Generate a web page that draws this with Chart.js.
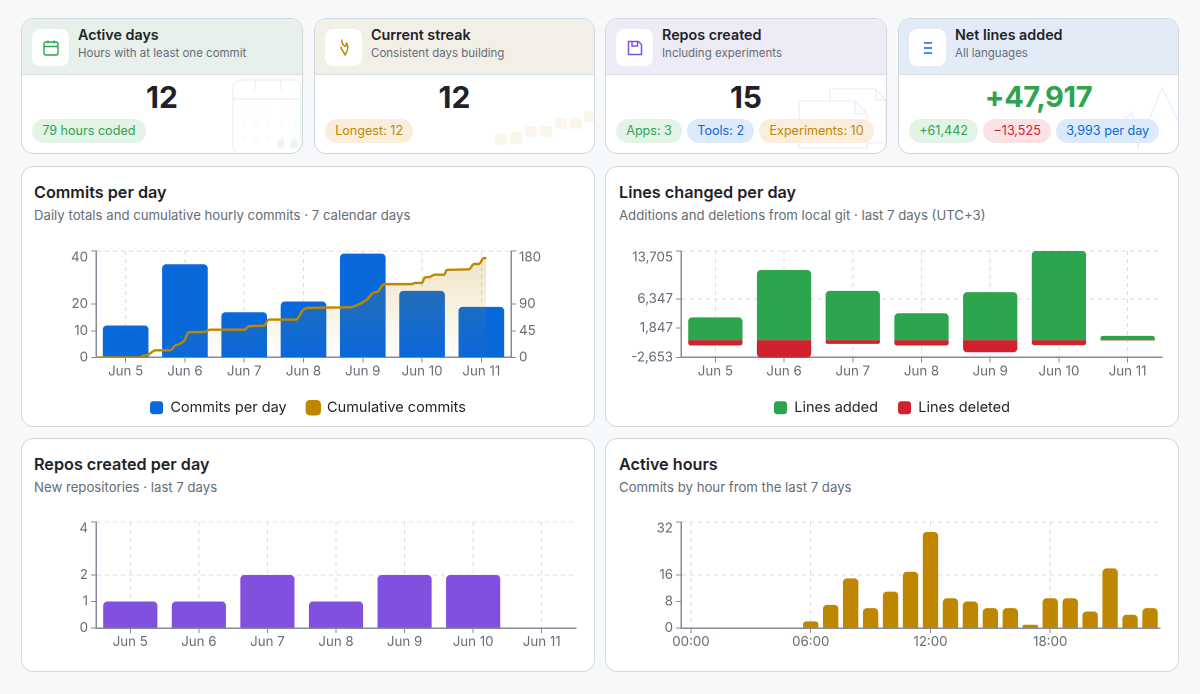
<!DOCTYPE html>
<html><head><meta charset="utf-8">
<script src="https://cdn.jsdelivr.net/npm/chart.js@4"></script>
<style>
*{box-sizing:border-box}
html,body{margin:0;padding:0;width:1200px;height:694px;overflow:hidden;background:#f6f8fa;font-family:Inter,"Noto Sans",sans-serif;color:#1f2328}
.card{position:absolute;background:#fff;border:1px solid #d0d7de;border-radius:12px;overflow:hidden}
.stat{top:18px;height:136px;width:282px}
.head{position:absolute;left:0;top:0;right:0;height:56px;border-bottom:1px solid #d8dee4}
.ico{position:absolute;left:10px;top:10px;width:37px;height:37px;background:#fff;border-radius:8px}
.ico svg{position:absolute;left:9px;top:9px}
.t{position:absolute;left:56px;top:7px;font-size:14.3px;font-weight:600;white-space:nowrap}
.s{position:absolute;left:56px;top:27px;font-size:11.5px;color:#656d76;white-space:nowrap}
.num{position:absolute;left:0;right:0;top:60px;text-align:center;font-size:30px;line-height:36px;font-weight:700;z-index:2}
.pills{position:absolute;left:10px;top:100px;display:flex;gap:5px;z-index:2}
.pill{height:24px;line-height:24px;border-radius:12px;padding:0 10.2px;font-size:12.6px;white-space:nowrap;font-weight:400}
.g{background:#e3f3e7;color:#2da44e}.o{background:#f8eedb;color:#bf8700}.b{background:#ddeafa;color:#0969da}.r{background:#fbe3e5;color:#cf222e}
.wm{position:absolute;left:0;top:0;z-index:1}
.panel h3{position:absolute;left:12px;top:15px;margin:0;font-size:16.2px;font-weight:600}
.panel p{position:absolute;left:12px;top:40px;margin:0;font-size:13.2px;color:#656d76;white-space:nowrap}
.panel canvas{position:absolute;left:0;top:0}
</style></head><body>

<div class="card stat" style="left:21px">
 <div class="head" style="background:#e7f0ea"></div>
 <div class="ico"><svg width="20" height="20" viewBox="0 0 20 20" fill="none" stroke="#2da44e" stroke-width="1.4"><rect x="3" y="4" width="14" height="13" rx="2"/><path d="M3 8.5h14M7 2.5v3M13 2.5v3"/></svg></div>
 <div class="t">Active days</div><div class="s">Hours with at least one commit</div>
 <svg class="wm" width="282" height="136" fill="none" stroke="#2da44e" opacity=".1"><rect x="211" y="61" width="68" height="74" rx="8" stroke-width="1.5"/><path d="M211 80h68M233 61v10M259 61v10" stroke-width="1.5"/><g fill="#2da44e" stroke="none" opacity=".45"><circle cx="221" cy="93" r="2"/><circle cx="234" cy="93" r="2"/><circle cx="247" cy="93" r="2"/><circle cx="260" cy="93" r="2"/><circle cx="272" cy="93" r="2"/><circle cx="221" cy="106" r="2"/><circle cx="234" cy="106" r="2"/><circle cx="247" cy="106" r="2"/><circle cx="260" cy="106" r="2"/><circle cx="272" cy="106" r="2"/><circle cx="221" cy="119" r="2"/><circle cx="234" cy="119" r="2"/><circle cx="247" cy="119" r="2"/><circle cx="260" cy="119" r="2"/><circle cx="272" cy="119" r="2"/></g><circle cx="259" cy="125" r="4" fill="#2da44e" stroke="none"/><circle cx="272" cy="125" r="4" fill="#2da44e" stroke="none"/></svg>
 <div class="num">12</div>
 <div class="pills"><span class="pill g">79 hours coded</span></div>
</div>

<div class="card stat" style="left:314px;width:281px">
 <div class="head" style="background:#f2efe6"></div>
 <div class="ico"><svg width="20" height="20" viewBox="0 0 20 20" fill="none" stroke="#bf8700" stroke-width="1.5" stroke-linejoin="round"><path d="M8 1.5c-.5 3 .5 5 3 7 1-1 2-2 1.5-3.5 2 3 1.5 7.500-1.500 12-.5-3-4.500-5-4-8.500"/></svg></div>
 <div class="t">Current streak</div><div class="s">Consistent days building</div>
 <svg class="wm" width="281" height="136" fill="#bf8700" opacity=".08"><rect x="180" y="114" width="12" height="12" rx="3"/><rect x="195" y="113" width="12" height="12" rx="3"/><rect x="210" y="107" width="12" height="11" rx="3"/><rect x="225" y="107" width="12" height="11" rx="3"/><rect x="240" y="99" width="12" height="11" rx="3"/><rect x="255" y="99" width="12" height="11" rx="3"/><rect x="269" y="92" width="12" height="11" rx="3"/></svg>
 <div class="num">12</div>
 <div class="pills"><span class="pill o">Longest: 12</span></div>
</div>

<div class="card stat" style="left:605px">
 <div class="head" style="background:#edebf6"></div>
 <div class="ico"><svg width="20" height="20" viewBox="0 0 20 20" fill="none" stroke="#8250df" stroke-width="1.5"><path d="M3.500 3.500h10l3 3v10h-13zM7 3.500v4.500h5.500V3.500"/></svg></div>
 <div class="t">Repos created</div><div class="s">Including experiments</div>
 <svg class="wm" width="282" height="136" fill="none" stroke="#8250df" stroke-width="1.2" opacity=".13"><path d="M193 82h56l12 13v34h-68zM249 82v13h12"/><path d="M224 82V70h46l10 11v43h-19M270 70v11h10"/></svg>
 <div class="num">15</div>
 <div class="pills"><span class="pill g">Apps: 3</span><span class="pill b">Tools: 2</span><span class="pill o">Experiments: 10</span></div>
</div>

<div class="card stat" style="left:898px;width:281px">
 <div class="head" style="background:#e3ecf6"></div>
 <div class="ico"><svg width="20" height="20" viewBox="0 0 20 20" fill="none" stroke="#0969da" stroke-width="1.6"><path d="M6 5h8M6 10h8M6 15h8"/></svg></div>
 <div class="t">Net lines added</div><div class="s">All languages</div>
 <svg class="wm" width="281" height="136" fill="none" stroke="#0969da" stroke-width="1.500" opacity=".09"><path d="M160 118L187 123L215 110L233 94L239 128L263 69L281 106"/></svg>
 <div class="num" style="color:#2da44e;font-size:29px;letter-spacing:-.4px">+47,917</div>
 <div class="pills"><span class="pill g">+61,442</span><span class="pill r">−13,525</span><span class="pill b">3,993 per day</span></div>
</div>

<div class="card panel" style="left:21px;top:166px;width:574px;height:261px"><h3>Commits per day</h3><p>Daily totals and cumulative hourly commits · 7 calendar days</p><canvas id="c1"></canvas></div>
<div class="card panel" style="left:605px;top:166px;width:574px;height:261px"><h3 style="left:13px">Lines changed per day</h3><p style="left:13px">Additions and deletions from local git · last 7 days (UTC+3)</p><canvas id="c2"></canvas></div>
<div class="card panel" style="left:21px;top:438px;width:574px;height:234px"><h3>Repos created per day</h3><p>New repositories · last 7 days</p><canvas id="c3"></canvas></div>
<div class="card panel" style="left:605px;top:438px;width:574px;height:234px"><h3 style="left:13px">Active hours</h3><p style="left:13px">Commits by hour from the last 7 days</p><canvas id="c4"></canvas></div>

<script>
const days = ['Jun 5','Jun 6','Jun 7','Jun 8','Jun 9','Jun 10','Jun 11'];
const commitsPerDay = [12,35,17,21,39,25,19];
const cumHours = [1,18,19,21,22,24,30,32,34,36,37,38,44,46,60,62,68,70,81,84,87,103,106,110,112,114,116,117,128,129,132,133,135,137,141,142,151,153,155,157,158];
const cumValues = [0,0,3,4,7,12,12,20,23,30,40,43,43,47,47,53,54,64,64,81,84,85,89,99,109,111,122,124,124,126,126,135,136,140,140,148,149,158,158,168,168];
const commitTicks = [0,10,20,40];
const cumTicks = [0,45,90,180];
const linesAdded = [3510,10790,7585,4130,7380,13705,665];
const linesDeleted = [-820,-2653,-570,-820,-1860,-770,-50];
const lineTicks = [-2653,1847,6347,13705];
const reposPerDay = [1,1,2,1,2,2,0];
const repoTicks = [0,1,2,4];
const hours = ['00:00','01:00','02:00','03:00','04:00','05:00','06:00','07:00','08:00','09:00','10:00','11:00','12:00','13:00','14:00','15:00','16:00','17:00','18:00','19:00','20:00','21:00','22:00','23:00'];
const hourCommits = [0,0,0,0,0,0,2,7,15,6,11,17,29,9,8,6,6,1,9,9,5,18,4,6];
const hourTicks = [0,8,16,32];

const TICK='#656d76', AXIS='#848d97', GRID='#d8dee4';
Chart.defaults.font.family='Inter, "Noto Sans", sans-serif';
Chart.defaults.animation=false;
Chart.defaults.responsive=false;

function fmt(v){return Math.round(v).toLocaleString('en-US');}

// y axis with explicit ticks; the top label sits just below its tick
function yAxis(ticks,pos,width,gridFrom){
  const max=ticks[ticks.length-1];
  return {
    type:'linear',position:pos,min:ticks[0],max:max,
    afterBuildTicks:s=>{s.ticks=ticks.map(v=>({value:v}));},
    afterFit:s=>{s.width=width;},
    border:{display:true,color:AXIS,width:1.5,dash:[4,4]},
    grid:{drawOnChartArea:pos==='left',tickLength:5,tickColor:AXIS,lineWidth:1,tickBorderDash:[],
      color:c=>(c.index>=gridFrom?GRID:'transparent')},
    ticks:{color:TICK,padding:3,font:{size:13.3,lineHeight:1},autoSkip:false,
      callback:v=>(v===max?['',fmt(v)]:fmt(v))}
  };
}
function xAxis(){
  return {
    type:'category',offset:true,
    border:{display:true,color:AXIS,width:1.5,dash:[4,4]},
    grid:{offset:false,color:GRID,tickColor:AXIS,tickLength:5,lineWidth:1,tickBorderDash:[]},
    ticks:{color:TICK,padding:1,font:{size:13.3},maxRotation:0,autoSkip:false}
  };
}
function make(id,w,h,pad,cfg){
  const el=document.getElementById(id);
  el.width=w;el.height=h;el.style.width=w+'px';el.style.height=h+'px';
  cfg.options.layout={padding:pad};
  cfg.options.devicePixelRatio=2;
  cfg.options.maintainAspectRatio=false;
  return new Chart(el,cfg);
}
const legendLabels={useBorderRadius:true,borderRadius:3,boxWidth:13,boxHeight:13,color:'#1f2328',padding:20.1,font:{size:14.5}};
const off={legend:{display:false},tooltip:{enabled:false}};

const c1=make('c1',572,258,{top:84,left:8,right:8,bottom:0},{
  type:'bar',
  data:{labels:days,datasets:[
    {label:'Commits per day',order:2,grouped:false,data:commitsPerDay,backgroundColor:'#0969da',borderColor:'#0969da',borderWidth:0,
     barPercentage:.77,categoryPercentage:1,borderRadius:{topLeft:4,topRight:4}},
    {type:'line',label:'Cumulative commits',order:1,xAxisID:'xh',yAxisID:'y2',
     data:cumHours.map((h,i)=>({x:h,y:cumValues[i]})),
     borderColor:'#bf8700',backgroundColor:'#bf8700',borderWidth:2.4,pointRadius:0,cubicInterpolationMode:'monotone',
     fill:{target:'origin',above:'rgba(191,135,0,.2)'}}
  ]},
  options:{plugins:{legend:{display:true,position:'bottom',reverse:true,labels:legendLabels},tooltip:{enabled:false}},
    scales:{
      x:xAxis(),
      xh:{type:'linear',display:false,offset:false,min:0,max:168},
      y:yAxis(commitTicks,'left',66,3),
      y2:yAxis(cumTicks,'right',75,3)
    }}
});
{ // vertical fade of the cumulative area
  const a=c1.chartArea, g=c1.ctx.createLinearGradient(0,a.top,0,a.bottom);
  g.addColorStop(0,'rgba(191,135,0,.24)');
  g.addColorStop(1,'rgba(191,135,0,0)');
  c1.data.datasets[1].fill={target:'origin',above:g};
  c1.update('none');
}
make('c2',572,258,{top:84,left:16,right:16,bottom:0},{
  type:'bar',
  data:{labels:days,datasets:[
    {label:'Lines added',data:linesAdded,backgroundColor:'#2da44e',barPercentage:.79,categoryPercentage:1,stack:'a',borderRadius:{topLeft:4,topRight:4},borderSkipped:false},
    {label:'Lines deleted',data:linesDeleted,backgroundColor:'#cf222e',barPercentage:.79,categoryPercentage:1,stack:'a',borderRadius:{bottomLeft:4,bottomRight:4},borderSkipped:false}
  ]},
  options:{plugins:{legend:{display:true,position:'bottom',labels:legendLabels},tooltip:{enabled:false}},
    scales:{x:Object.assign(xAxis(),{stacked:true}),y:Object.assign(yAxis(lineTicks,'left',59,2),{stacked:true})}}
});
make('c3',572,232,{top:83,left:8,right:18,bottom:20},{
  type:'bar',
  data:{labels:days,datasets:[{label:'Repos created',data:reposPerDay,backgroundColor:'#8250df',barPercentage:.79,categoryPercentage:1,borderRadius:{topLeft:4,topRight:4}}]},
  options:{plugins:off,scales:{x:xAxis(),y:yAxis(repoTicks,'left',66,2)}}
});
make('c4',572,232,{top:83,left:8,right:18,bottom:20},{
  type:'bar',
  data:{labels:hours,datasets:[{label:'Commits',data:hourCommits,backgroundColor:'#bf8700',barPercentage:.77,categoryPercentage:1,borderRadius:{topLeft:4,topRight:4}}]},
  options:{plugins:off,scales:{
    x:Object.assign(xAxis(),{afterBuildTicks:s=>{s.ticks=s.ticks.filter(t=>t.value%6===0);}}),
    y:yAxis(hourTicks,'left',67,2)}}
});
</script>
</body></html>
